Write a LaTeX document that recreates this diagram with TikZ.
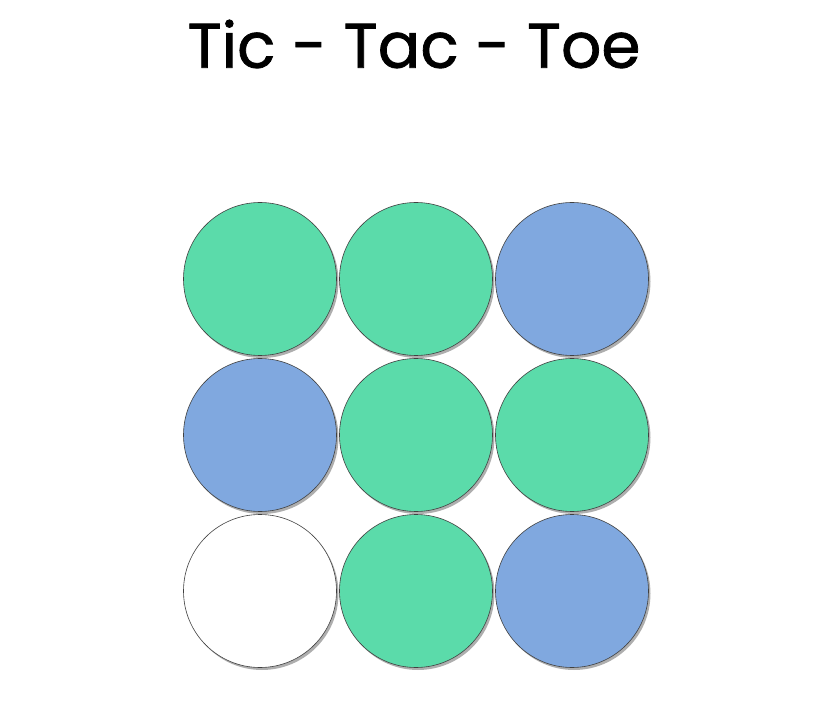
\documentclass[tikz,border=0pt]{standalone}
\usepackage{fontspec}
\newfontfamily\titlefont[FakeBold=1.2]{Poppins}
\usetikzlibrary{shadows}
\definecolor{cellgreen}{HTML}{5BDBAA}
\definecolor{cellblue}{HTML}{80A8DF}
\tikzset{
  cell/.style={circle,draw=black!75,line width=0.6pt,minimum size=153pt,inner sep=0pt,
    drop shadow={shadow xshift=2pt,shadow yshift=-2.5pt,fill=black!45,opacity=0.7}},
  gcell/.style={cell,fill=cellgreen},
  bcell/.style={cell,fill=cellblue},
  ecell/.style={cell,fill=white}
}

\begin{document}
\begin{tikzpicture}[x=1pt,y=-1pt]
  \useasboundingbox (0,0) rectangle (828,719);
  \node (title) at (414,44) {\titlefont\fontsize{63}{66}\selectfont Tic - Tac - Toe};
  % row 1
  \node[gcell] (c11) at (260,279) {};
  \node[gcell] (c12) at (416,279) {};
  \node[bcell] (c13) at (572,279) {};
  % row 2
  \node[bcell] (c21) at (260,435) {};
  \node[gcell] (c22) at (416,435) {};
  \node[gcell] (c23) at (572,435) {};
  % row 3
  \node[ecell] (c31) at (260,591) {};
  \node[gcell] (c32) at (416,591) {};
  \node[bcell] (c33) at (572,591) {};
\end{tikzpicture}
\end{document}
